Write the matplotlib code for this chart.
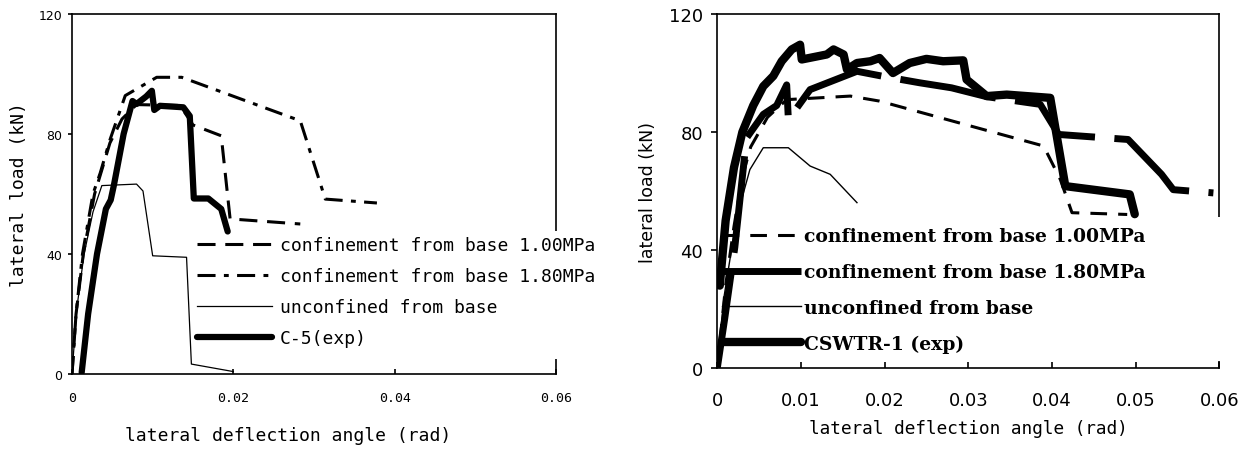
import matplotlib
matplotlib.use("Agg")
import matplotlib.pyplot as plt
from matplotlib.patches import Rectangle

plt.rcParams['font.family'] = ['DejaVu Sans Mono', 'DejaVu Sans']
plt.rcParams['lines.scale_dashes'] = False

# ---- left panel: C-5 ----
l_x100 = [0, 0.0005, 0.0014, 0.0028, 0.0047, 0.0062, 0.0080, 0.0134, 0.0150, 0.0185, 0.0196, 0.0283]
l_y100 = [0, 20, 40, 60, 77, 85, 89.8, 89.5, 83, 79.4, 51.7, 50]
l_x180 = [0, 0.0005, 0.0013, 0.0026, 0.0035, 0.0047, 0.0066, 0.0105, 0.0136, 0.0283, 0.0314, 0.0378]
l_y180 = [0, 20, 40, 60, 67, 78, 92.8, 98.9, 98.9, 84.4, 58.3, 57]
l_xunc = [0, 0.0006, 0.0015, 0.0026, 0.0037, 0.0080, 0.0088, 0.0100, 0.0142, 0.0148, 0.0200]
l_yunc = [0, 22, 40, 54, 62.8, 63.3, 61, 39.4, 38.9, 3.3, 0.8]
l_xexp = [0.0012, 0.0020, 0.0031, 0.0042, 0.0048, 0.0052, 0.0064, 0.0075, 0.0080, 0.0092,
          0.0099, 0.0102, 0.0109, 0.0138, 0.0146, 0.0151, 0.0169, 0.0185, 0.0193]
l_yexp = [0.5, 20, 40, 55, 58, 63, 80, 91, 90, 92.5, 94.4, 88, 89.4, 88.9, 86, 58.5, 58.5, 55, 47.5]
l_xticks = [0, 0.02, 0.04, 0.06]
l_xlabels = ['0', '0.02', '0.04', '0.06']

# ---- right panel: CSWTR-1 ----
r_x100 = [0, 0.0010, 0.0020, 0.0030, 0.0040, 0.0060, 0.0083, 0.0159, 0.0194, 0.0390, 0.0410,
          0.0424, 0.0490]
r_y100 = [0, 28, 48, 65, 75, 85, 91, 92.2, 90.5, 75.3, 64, 52.7, 52.1]
r_x180 = [0, 0.0009, 0.0021, 0.0035, 0.0055, 0.0071, 0.0083, 0.0085, 0.0111, 0.0167, 0.0198,
          0.0242, 0.0280, 0.0322, 0.0386, 0.0408, 0.0491, 0.0531, 0.0545, 0.0593]
r_y180 = [0, 17, 41, 78, 86, 89, 96, 84.2, 94.4, 100.6, 98.9, 96.7, 95, 92, 89.4, 79.2, 77.5,
          65.7, 60.5, 59.4]
r_xunc = [0, 0.0008, 0.0018, 0.0028, 0.0039, 0.0055, 0.0085, 0.0111, 0.0135, 0.0167]
r_yunc = [0, 24, 42, 56, 67.3, 74.7, 74.7, 68.5, 65.7, 56.1]
r_xexp = [0.0003, 0.0010, 0.0020, 0.0030, 0.0043, 0.0055, 0.0067, 0.0077, 0.0089, 0.0099,
          0.0101, 0.0131, 0.0139, 0.0151, 0.0155, 0.0167, 0.0183, 0.0194, 0.0210, 0.0230,
          0.0250, 0.0270, 0.0294, 0.0298, 0.0322, 0.0346, 0.0398, 0.0416, 0.0493, 0.0499]
r_yexp = [28, 50, 68, 80, 89, 95.5, 99, 104, 108, 109.6, 104.6, 106.3, 108, 106.3, 101.2, 103.4,
          104, 105.1, 100, 103.4, 104.8, 104, 104.3, 97.8, 92.2, 92.7, 91.6, 61.7, 58.9, 52.2]
r_xticks = [0, 0.01, 0.02, 0.03, 0.04, 0.05, 0.06]
r_xlabels = ['0', '0.01', '0.02', '0.03', '0.04', '0.05', '0.06']

y_ticks = [0, 40, 80, 120]

fig = plt.figure(figsize=(12.5, 4.52), dpi=100)
ax1 = fig.add_axes([0.0576, 0.1704, 0.3872, 0.7964])
ax2 = fig.add_axes([0.5738, 0.1830, 0.4016, 0.7838])

# left
ax1.plot(l_x100, l_y100, color='black', lw=2.2, dashes=(13, 7),
         label='confinement from base 1.00MPa')
ax1.plot(l_x180, l_y180, color='black', lw=2.2, dashes=(13, 6, 3.5, 6),
         label='confinement from base 1.80MPa')
ax1.plot(l_xunc, l_yunc, color='black', lw=0.9, label='unconfined from base')
ax1.plot(l_xexp, l_yexp, color='black', lw=4.5, solid_capstyle='round',
         solid_joinstyle='round', label='C-5(exp)', zorder=3)

# right
ax2.plot(r_x100, r_y100, color='black', lw=2.2, dashes=(12, 8),
         label='confinement from base 1.00MPa')
ax2.plot(r_x180, r_y180, color='black', lw=5, dashes=(70, 14),
         label='confinement from base 1.80MPa')
ax2.plot(r_xunc, r_yunc, color='black', lw=1.0, label='unconfined from base')
ax2.plot(r_xexp, r_yexp, color='black', lw=6, solid_capstyle='round',
         solid_joinstyle='round', label='CSWTR-1 (exp)', zorder=3)

for ax in (ax1, ax2):
    ax.set_xlim(0, 0.06)
    ax.set_ylim(0, 120)
    ax.set_yticks(y_ticks)
    for s in ax.spines.values():
        s.set_linewidth(1.2)

ax1.set_xticks(l_xticks, l_xlabels, family='DejaVu Sans Mono', fontsize=9.5)
ax1.set_yticklabels([str(v) for v in y_ticks], family='DejaVu Sans', fontsize=9)
ax1.tick_params(axis='x', direction='in', length=3.6, pad=12, width=1.2)
ax1.tick_params(axis='y', direction='out', length=2.7, pad=4.5, width=1.2)

ax2.set_xticks(r_xticks, r_xlabels, family='DejaVu Sans', fontsize=13)
ax2.set_yticklabels([str(v) for v in y_ticks], family='DejaVu Sans', fontsize=13)
ax2.tick_params(axis='x', direction='in', length=4, pad=16, width=1.2)
ax2.tick_params(axis='y', direction='out', length=4.3, pad=5.8, width=1.2)

ax1.set_xlabel('lateral deflection angle (rad)', fontsize=13)
ax1.xaxis.set_label_coords(0.446, -0.144)
ax1.set_ylabel('lateral load (kN)', fontsize=13)
ax1.yaxis.set_label_coords(-0.091, 0.5)

ax2.set_xlabel('lateral deflection angle (rad)', fontsize=12.8)
ax2.xaxis.set_label_coords(0.4994, -0.143)
ax2.set_ylabel('lateral load (kN)', fontsize=12.5, family='DejaVu Sans')
ax2.yaxis.set_label_coords(-0.12, 0.5)

# white patches hiding the right spine behind the legends
ax1.add_patch(Rectangle((0.97, 0.042), 0.05, 0.355, transform=ax1.transAxes,
                        facecolor='white', edgecolor='none', clip_on=False, zorder=4))
ax2.add_patch(Rectangle((0.97, 0.02), 0.05, 0.407, transform=ax2.transAxes,
                        facecolor='white', edgecolor='none', clip_on=False, zorder=4))

ax1.legend(loc='upper left', bbox_to_anchor=(0.258, 0.383), frameon=False,
           borderaxespad=0, borderpad=0, fontsize=13, handlelength=4.15,
           handletextpad=0.45, labelspacing=0.72)
ax2.legend(loc='upper left', bbox_to_anchor=(0.009, 0.398), frameon=False,
           borderaxespad=0, borderpad=0, handlelength=4.2, handletextpad=0.17,
           labelspacing=0.95, prop={'family': 'DejaVu Serif', 'weight': 'bold', 'size': 13.5})

fig.savefig('out.png', dpi=100)
